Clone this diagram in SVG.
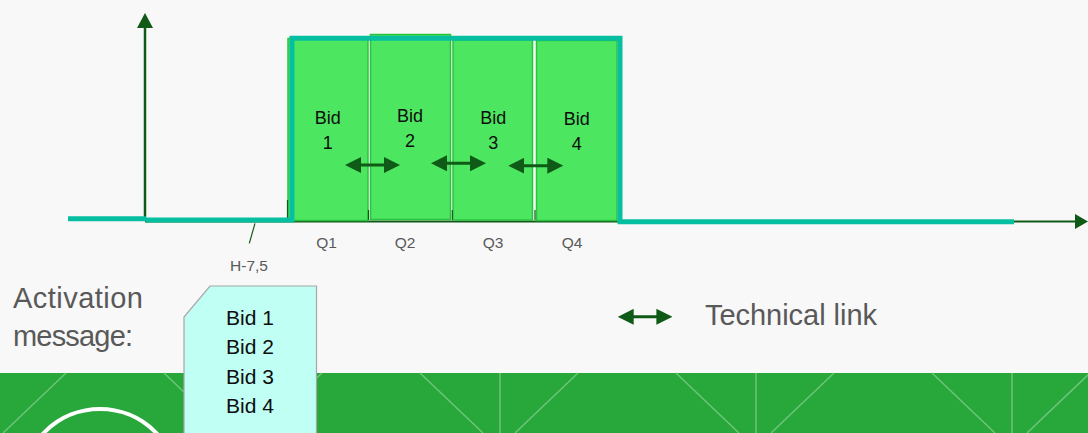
<svg xmlns="http://www.w3.org/2000/svg" width="1088" height="433" viewBox="0 0 1088 433">
  <style>
    .box { fill: #4de661; stroke: #2bc23f; stroke-width: 1.5; }
    .bid { font-family: "Liberation Sans", Arial, sans-serif; font-size: 18px; fill: #0d0d0d; text-anchor: middle; }
    .q { font-family: "Liberation Sans", Arial, sans-serif; font-size: 15.5px; fill: #595959; text-anchor: middle; }
    .big { font-family: "Liberation Sans", Arial, sans-serif; font-size: 29px; fill: #595959; }
    .msg { font-family: "Liberation Sans", Arial, sans-serif; font-size: 21px; fill: #0d0d0d; }
    .link { stroke: #0f5a17; stroke-width: 3; fill: none; marker-start: url(#ah); marker-end: url(#ah); }
    .band { stroke: #6cc57a; stroke-width: 1.5; fill: none; }
    .tick { stroke: #0f5a17; stroke-width: 1.2; }
  </style>
  <defs>
    <marker id="ah" viewBox="0 0 16 16" refX="8" refY="8" markerWidth="16" markerHeight="16" markerUnits="userSpaceOnUse" orient="auto-start-reverse">
      <path d="M0,0 L16,8 L0,16 Z" fill="#0f5a17"/>
    </marker>
  </defs>

  <!-- background -->
  <g id="background">
    <rect x="0" y="0" width="1088" height="433" fill="#f8f8f8"/>
    <rect x="0" y="373" width="1088" height="60" fill="#28a73b"/>
    <g class="band">
      <path d="M66,373 L3,433"/>
      <path d="M164,373 L227,433 M244,373 V433 M322,373 L259,433"/>
      <path d="M420,373 L483,433 M500,373 V433 M578,373 L515,433"/>
      <path d="M676,373 L739,433 M756,373 V433 M834,373 L771,433"/>
      <path d="M932,373 L995,433 M1012,373 V433 M1090,373 L1027,433"/>
    </g>
    <circle cx="100" cy="487" r="78" fill="none" stroke="#ffffff" stroke-width="4"/>
  </g>

  <!-- axes -->
  <g id="axes">
    <line x1="145" y1="219" x2="145" y2="27" stroke="#0f5a17" stroke-width="2.5"/>
    <polygon points="145,13 153,28 137,28" fill="#0f5a17"/>
    <line x1="145" y1="221.5" x2="1076" y2="221.5" stroke="#0f5a17" stroke-width="2"/>
    <polygon points="1088,221.5 1075,214 1075,229" fill="#0f5a17"/>
  </g>

  <!-- quarter boxes -->
  <g id="bid1"><rect class="box" x="288" y="38.5" width="80" height="182"/></g>
  <g id="bid2"><rect class="box" x="370.5" y="34.5" width="80" height="185"/></g>
  <g id="bid3"><rect class="box" x="453" y="40" width="79.5" height="180"/></g>
  <g id="bid4"><rect class="box" x="536.5" y="40.5" width="80.5" height="180"/></g>

  <g id="ticks">
    <line class="tick" x1="287.5" y1="200" x2="287.5" y2="218"/>
    <line class="tick" x1="368.5" y1="210" x2="368.5" y2="220"/>
    <line class="tick" x1="452.3" y1="210" x2="452.3" y2="220"/>
    <line class="tick" x1="535" y1="210" x2="535" y2="220"/>
  </g>

  <!-- activation profile (cyan step line) -->
  <g id="profile" fill="none" stroke="#06bfa0" stroke-width="5" stroke-linejoin="miter">
    <path d="M68,218.8 H146"/>
    <path d="M146,220 H292 V38.3 H620 V221.7 H1014"/>
  </g>

  <!-- box labels -->
  <g id="bid-labels">
    <text class="bid" x="327.7" y="124.3">Bid</text>
    <text class="bid" x="327.7" y="149">1</text>
    <text class="bid" x="410" y="121.7">Bid</text>
    <text class="bid" x="410" y="146.7">2</text>
    <text class="bid" x="493.3" y="124.3">Bid</text>
    <text class="bid" x="493.3" y="149">3</text>
    <text class="bid" x="576.7" y="125">Bid</text>
    <text class="bid" x="576.7" y="150">4</text>
  </g>

  <!-- technical links (connectors) -->
  <g id="connectors">
    <line class="link" x1="353" y1="165" x2="392" y2="165"/>
    <line class="link" x1="439" y1="163.3" x2="478" y2="163.3"/>
    <line class="link" x1="516.3" y1="165.7" x2="555.3" y2="165.7"/>
    <line x1="255" y1="223.3" x2="249.3" y2="243.3" stroke="#0f5a17" stroke-width="1.2"/>
  </g>

  <!-- axis labels -->
  <g id="axis-labels">
    <text class="q" x="326.5" y="248">Q1</text>
    <text class="q" x="405" y="248">Q2</text>
    <text class="q" x="493" y="248">Q3</text>
    <text class="q" x="572" y="248">Q4</text>
    <text class="q" x="249" y="271">H-7,5</text>
  </g>

  <!-- activation message -->
  <g id="activation-label">
    <text class="big" x="13" y="308" textLength="130">Activation</text>
    <text class="big" x="13" y="346" textLength="120">message:</text>
  </g>
  <g id="activation-message">
    <polygon points="210,286 316.5,286 316.5,440 184,440 184,317" fill="#c0fff4" stroke="#a6a6a6" stroke-width="1.2"/>
    <text class="msg" x="226" y="325">Bid 1</text>
    <text class="msg" x="226" y="354.3">Bid 2</text>
    <text class="msg" x="226" y="383.5">Bid 3</text>
    <text class="msg" x="226" y="413">Bid 4</text>
  </g>

  <!-- legend -->
  <g id="legend">
    <line class="link" x1="625.7" y1="316.8" x2="664.4" y2="316.8"/>
    <text class="big" x="705" y="324.5" textLength="172">Technical link</text>
  </g>
</svg>
